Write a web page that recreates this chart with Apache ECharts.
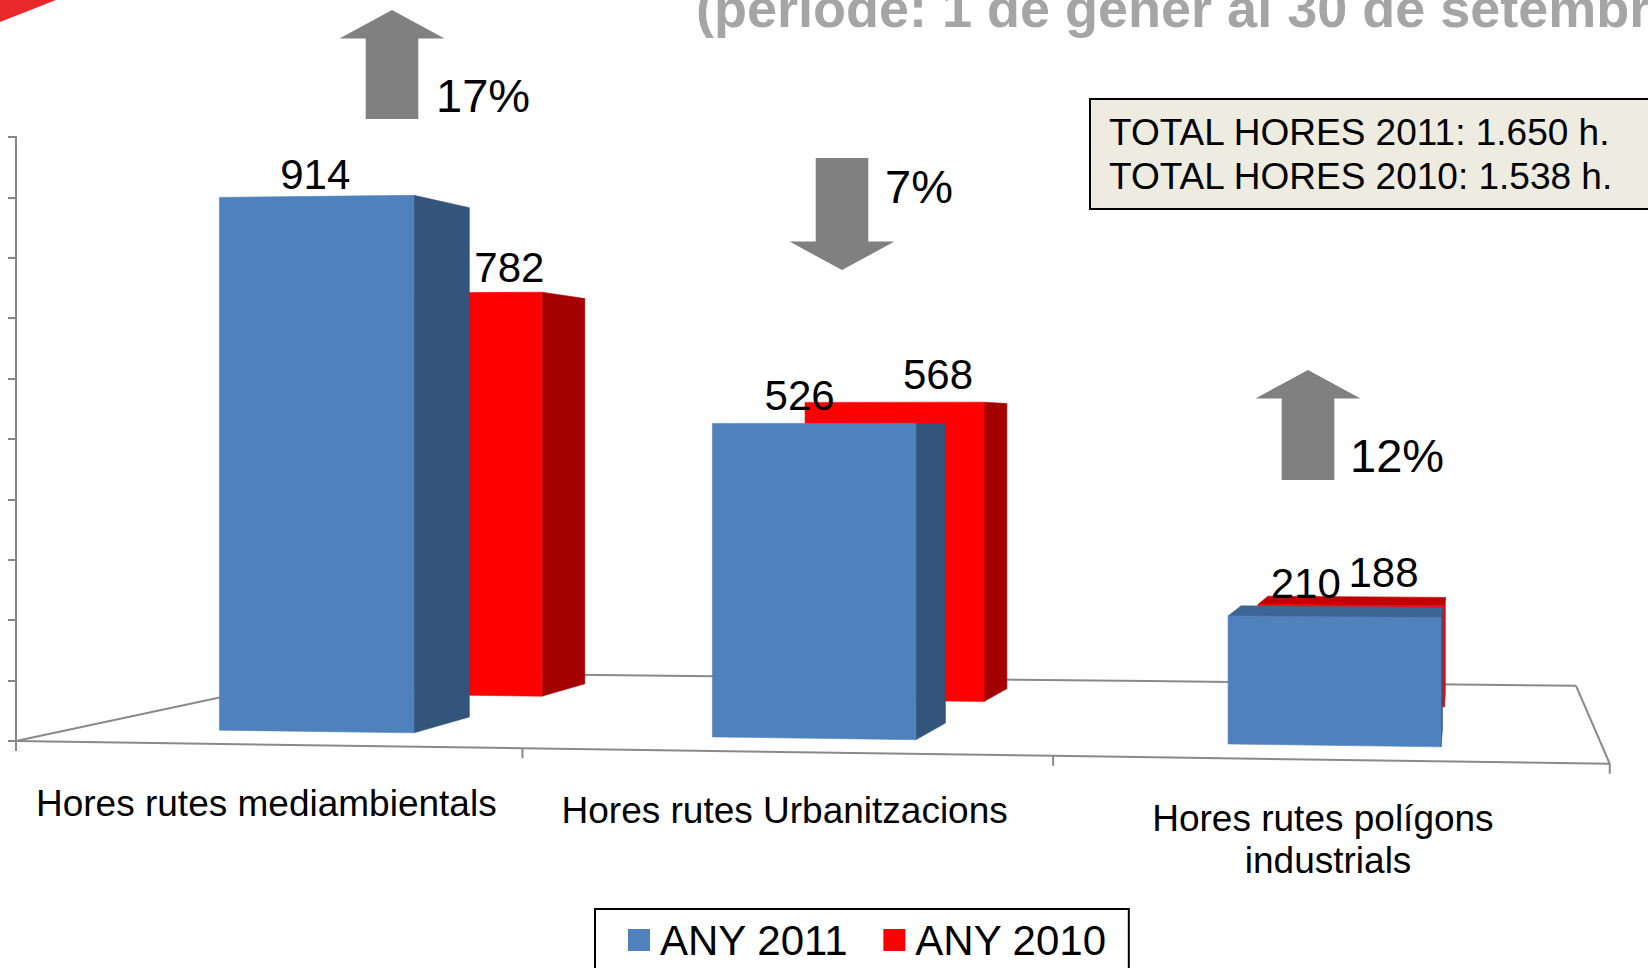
<!DOCTYPE html>
<html style="height: 100%">
<head>
    <meta charset="utf-8">
    <script type="text/javascript" src="https://cdn.jsdelivr.net/npm/echarts@6/dist/echarts.min.js"></script>
</head>
<body style="height: 100%; margin: 0; background: #fff">
<div id="container" style="width: 1648px; height: 968px"></div>
<script type="text/javascript">
    var categories = ['Hores rutes mediambientals', 'Hores rutes Urbanitzacions', 'Hores rutes polígons industrials'];
    var seriesNames = ['ANY 2011', 'ANY 2010'];
    var hores2011 = [914, 526, 210];
    var hores2010 = [782, 568, 188];

    // perspective of the 3D chart, screen px
    var CX = 824, CY = 431;      // centre / horizon
    var DEPTH_X = 642;           // sideways pull of depth
    var TURN = 0.0228;           // right side is nearer
    var BAR = 0.4;               // bar width as share of the category
    var ROWS = [[0.043, 0.100], [0.185, 0.242]];  // depth of row 2011 and row 2010
    var FLOOR_DEPTH = 0.285;
    var FONT = 'Liberation Sans, Arial, sans-serif';

    function proj(cs, fx, fy, z) {
        var x = (fx - cs.x) / (cs.width / categories.length);
        var w = 1 - TURN * x + z;
        return [CX + (fx - CX + DEPTH_X * z) / w, CY + (fy - CY) / w];
    }

    function face(points, color) {
        return {type: 'polygon', shape: {points: points}, style: {fill: color, stroke: color, lineWidth: 0.6}};
    }

    function barRender(row, colors, dx) {
        return function (params, api) {
            var cs = params.coordSys;
            var i = api.value(0), v = api.value(1);
            var band = api.size([1, 0])[0];
            var t = api.coord([i, v]), b = api.coord([i, 0]);
            var x0 = t[0] - band * BAR / 2, x1 = t[0] + band * BAR / 2;
            var z0 = ROWS[row][0], z1 = ROWS[row][1];
            var ftl = proj(cs, x0, t[1], z0), ftr = proj(cs, x1, t[1], z0),
                fbr = proj(cs, x1, b[1], z0), fbl = proj(cs, x0, b[1], z0),
                btl = proj(cs, x0, t[1], z1), btr = proj(cs, x1, t[1], z1),
                bbr = proj(cs, x1, b[1], z1), bbl = proj(cs, x0, b[1], z1);
            var kids = [];
            if (btr[0] > ftr[0] + 0.3) kids.push(face([ftr, btr, bbr, fbr], colors[1]));
            if (btl[0] < ftl[0] - 0.3) kids.push(face([ftl, btl, bbl, fbl], colors[1]));
            if (btl[1] < ftl[1] - 0.3) kids.push(face([ftl, ftr, btr, btl], colors[2]));
            kids.push(face([ftl, ftr, fbr, fbl], colors[0]));
            var c = proj(cs, t[0], t[1], (z0 + z1) / 2);
            kids.push({
                type: 'text', x: c[0] + dx, y: c[1] - 28,
                style: {text: String(v), fill: '#000', fontSize: 42, fontFamily: FONT, align: 'center', verticalAlign: 'middle'}
            });
            return {type: 'group', children: kids};
        };
    }

    function floorRender(params, api) {
        var cs = params.coordSys;
        var i = api.value(0);
        var band = api.size([1, 0])[0];
        var c = api.coord([i, 0]);
        var xl = c[0] - band / 2, xr = c[0] + band / 2;
        var fl = proj(cs, xl, c[1], 0), fr = proj(cs, xr, c[1], 0),
            bl = proj(cs, xl, c[1], FLOOR_DEPTH), br = proj(cs, xr, c[1], FLOOR_DEPTH);
        function line(a, b) {
            return {type: 'line', shape: {x1: a[0], y1: a[1], x2: b[0], y2: b[1]}, style: {stroke: '#898989', lineWidth: 2}};
        }
        var kids = [line(fl, fr), line(bl, br), line(fl, [fl[0], fl[1] + 10])];
        if (i === 0) kids.push(line(fl, bl));
        if (i === categories.length - 1) {
            kids.push(line(fr, br));
            kids.push(line(fr, [fr[0], fr[1] + 10]));
        }
        var m = proj(cs, c[0], c[1], 0);
        kids.push({
            type: 'text', x: m[0], y: m[1] + 38,
            style: {
                text: categories[i], fill: '#000', fontSize: 37, fontFamily: FONT, lineHeight: 42,
                align: 'center', verticalAlign: 'top', width: 500, overflow: 'break'
            }
        });
        return {type: 'group', children: kids};
    }

    function sum(a) {
        return a.reduce(function (s, v) { return s + v; }, 0);
    }
    function thousands(n) {
        return String(n).replace(/\B(?=(\d{3})+(?!\d))/g, '.');
    }

    // arrows with the change 2010 -> 2011, placed by hand on the slide
    var arrowSpots = [[392, 10, 119, 436, 95], [842, 158, 270, 885, 186], [1308, 370, 480, 1350, 455]];
    var graphics = [];
    graphics.push({type: 'polygon', shape: {points: [[0, 0], [56, 0], [0, 22]]}, style: {fill: '#E8282B'}});
    graphics.push({
        type: 'text', x: 696, y: 8,
        style: {text: '(període: 1 de gener al 30 de setembre de 2011)', fill: '#A5A5A5', fontSize: 54, fontWeight: 'bold', fontFamily: FONT, verticalAlign: 'middle'}
    });
    arrowSpots.forEach(function (s, i) {
        var up = hores2011[i] >= hores2010[i];
        var cx = s[0], top = s[1], bot = s[2], hw = 52.5, sw = 26.3, hl = 28.4;
        var pts = up
            ? [[cx, top], [cx + hw, top + hl], [cx + sw, top + hl], [cx + sw, bot], [cx - sw, bot], [cx - sw, top + hl], [cx - hw, top + hl]]
            : [[cx, bot], [cx + hw, bot - hl], [cx + sw, bot - hl], [cx + sw, top], [cx - sw, top], [cx - sw, bot - hl], [cx - hw, bot - hl]];
        graphics.push({type: 'polygon', shape: {points: pts}, style: {fill: '#808080'}});
        var pct = Math.round(Math.abs(hores2011[i] / hores2010[i] - 1) * 100);
        graphics.push({
            type: 'text', x: s[3], y: s[4],
            style: {text: pct + '%', fill: '#000', fontSize: 47, fontFamily: FONT, verticalAlign: 'middle'}
        });
    });
    graphics.push({type: 'rect', shape: {x: 1090, y: 99, width: 600, height: 110}, style: {fill: '#EEECE1', stroke: '#000', lineWidth: 2}});
    graphics.push({
        type: 'text', x: 1109, y: 132,
        style: {text: 'TOTAL HORES 2011: ' + thousands(sum(hores2011)) + ' h.', fill: '#000', fontSize: 37, fontFamily: FONT, verticalAlign: 'middle'}
    });
    graphics.push({
        type: 'text', x: 1109, y: 176.6,
        style: {text: 'TOTAL HORES 2010: ' + thousands(sum(hores2010)) + ' h.', fill: '#000', fontSize: 37, fontFamily: FONT, verticalAlign: 'middle'}
    });

    var dom = document.getElementById('container');
    var myChart = echarts.init(dom, null, {renderer: 'svg'});
    var option = {
        animation: false,
        backgroundColor: '#fff',
        textStyle: {fontFamily: FONT},
        grid: {left: 16, top: 137, width: 1540, height: 604, outerBoundsMode: 'none', containLabel: false},
        legend: {
            data: seriesNames,
            left: 595, top: 909,
            icon: 'rect', itemWidth: 22, itemHeight: 22, itemGap: 35,
            padding: [10, 22, 40, 33],
            borderColor: '#000', borderWidth: 2,
            textStyle: {fontSize: 42, color: '#000', fontFamily: FONT, padding: [0, 0, 0, 5]}
        },
        xAxis: {
            type: 'category', data: categories,
            axisLine: {show: false}, axisTick: {show: false}, axisLabel: {show: false}, splitLine: {show: false}
        },
        yAxis: {
            type: 'value', min: 0, max: 1000, interval: 100,
            axisLine: {show: true, lineStyle: {color: '#868686', width: 2}},
            axisTick: {show: true, length: 8, lineStyle: {color: '#868686', width: 2}},
            axisLabel: {show: false}, splitLine: {show: false}
        },
        graphic: graphics,
        series: [
            {
                type: 'custom', silent: true, clip: false,
                data: categories.map(function (c, i) { return [i, 0]; }),
                encode: {x: 0, y: 1},
                renderItem: floorRender
            },
            {
                name: seriesNames[1], type: 'custom', clip: false,
                itemStyle: {color: '#FF0000'},
                data: hores2010.map(function (v, i) { return [i, v]; }),
                encode: {x: 0, y: 1},
                renderItem: barRender(1, ['#FF0000', '#A40000', '#C00000'], 30)
            },
            {
                name: seriesNames[0], type: 'custom', clip: false,
                itemStyle: {color: '#4F81BD'},
                data: hores2011.map(function (v, i) { return [i, v]; }),
                encode: {x: 0, y: 1},
                renderItem: barRender(0, ['#4F81BD', '#33547B', '#3D6594'], -32)
            }
        ]
    };
    myChart.setOption(option);
</script>
</body>
</html>
